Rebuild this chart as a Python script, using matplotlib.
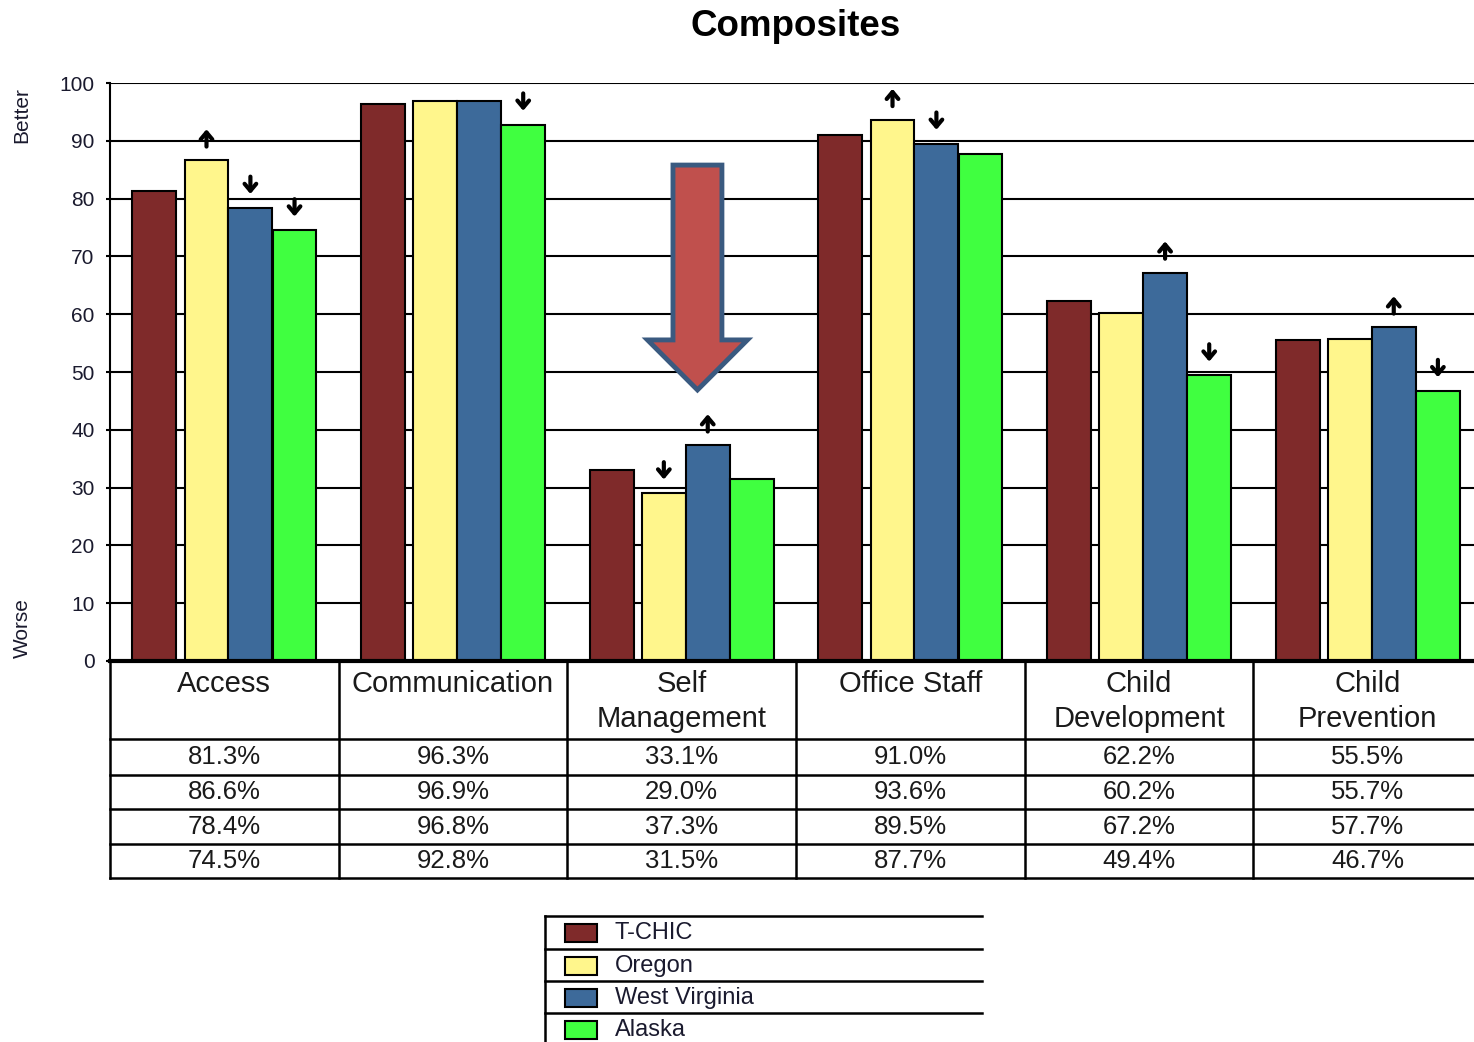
import matplotlib
matplotlib.use('Agg')
import matplotlib.pyplot as plt
from matplotlib.patches import FancyArrow, Rectangle

plt.rcParams['font.family'] = ['Liberation Sans', 'DejaVu Sans']

# ---------------------------------------------------------------------------
# data
# ---------------------------------------------------------------------------
categories = ['Access', 'Communication', 'Self\nManagement', 'Office Staff',
              'Child\nDevelopment', 'Child\nPrevention']
series = ['T-CHIC', 'Oregon', 'West Virginia', 'Alaska']
t_chic = [81.3, 96.3, 33.1, 91.0, 62.2, 55.5]
oregon = [86.6, 96.9, 29.0, 93.6, 60.2, 55.7]
west_virginia = [78.4, 96.8, 37.3, 89.5, 67.2, 57.7]
alaska = [74.5, 92.8, 31.5, 87.7, 49.4, 46.7]
# significance marks: 1 = up, -1 = down, 0 = none
oregon_sig = [1, 0, -1, 1, 0, 0]
west_virginia_sig = [-1, 0, 1, -1, 1, 1]
alaska_sig = [-1, -1, 0, 0, -1, -1]
t_chic_sig = [0, 0, 0, 0, 0, 0]
yticks = [0, 10, 20, 30, 40, 50, 60, 70, 80, 90, 100]

values = [t_chic, oregon, west_virginia, alaska]
sigs = [t_chic_sig, oregon_sig, west_virginia_sig, alaska_sig]
colors = ['#7F2A2A', '#FFF68C', '#3D6A9A', '#40FF40']

# ---------------------------------------------------------------------------
# layout (pixels)
# ---------------------------------------------------------------------------
W, H = 1474, 1042
fig = plt.figure(figsize=(W / 100, H / 100), dpi=100)

def px(x0, y_top, w, h):
    return [x0 / W, (H - y_top - h) / H, w / W, h / H]

group_w = 228.67
ax = fig.add_axes(px(110, 83, group_w * 6, 578))
ax.set_xlim(0, 6)
ax.set_ylim(0, 100)

offsets = [0.098, 0.326, 0.518, 0.711]
bar_w = 0.192
for s in range(4):
    xs = [g + offsets[s] for g in range(len(categories))]
    ax.bar(xs, values[s], width=bar_w, align='edge', color=colors[s],
           edgecolor='black', linewidth=1.5, zorder=3)
    for g in range(len(categories)):
        d = sigs[s][g]
        if d != 0:
            xc = xs[g] + bar_w / 2
            yc = values[s][g] + 3.9
            ax.annotate('', xy=(xc, yc + 1.5 * d), xytext=(xc, yc - 1.5 * d),
                        arrowprops=dict(arrowstyle='->,head_length=0.5,head_width=0.42',
                                        lw=3, color='black',
                                        shrinkA=0, shrinkB=0),
                        zorder=4)

ax.set_yticks(yticks)
ax.set_xticks([])
ax.yaxis.grid(True, color='black', linewidth=1.5, zorder=0)
ax.set_axisbelow(True)
ax.tick_params(axis='y', length=3, width=1.5, labelsize=15, pad=8,
               labelcolor='#1a1a2e')
for side in ['top', 'right']:
    ax.spines[side].set_visible(False)
ax.spines['left'].set_linewidth(1.5)
ax.spines['bottom'].set_linewidth(3)
ax.spines['bottom'].set_zorder(5)

# big highlight arrow over Self Management
g = 2
tip = max(v[g] for v in values) + 9.6
ax.add_patch(FancyArrow(g + 0.569, 85.8, 0, tip - 85.8, width=0.214,
                        head_width=0.437, head_length=8.65,
                        length_includes_head=True, facecolor='#C0504D',
                        edgecolor='#3A5A80', linewidth=3.5, zorder=6))

# ---------------------------------------------------------------------------
# data table under the chart
# ---------------------------------------------------------------------------
rows_y = [0, 78, 114, 148, 183, 217]
tab = fig.add_axes(px(110, 661, group_w * 6, 217))
tab.set_xlim(0, 6)
tab.set_ylim(217, 0)
tab.axis('off')
for y in rows_y[1:]:
    tab.plot([0, 6], [y, y], color='black', lw=1.8, clip_on=False)
for xg in range(7):
    tab.plot([xg, xg], [0, 217], color='black', lw=1.8, clip_on=False)
for gi, cat in enumerate(categories):
    tab.text(gi + 0.5, 9, cat, ha='center', va='top', fontsize=21,
             color='#1a1a1a', linespacing=1.3)
    for s in range(4):
        yc = (rows_y[s + 1] + rows_y[s + 2]) / 2
        tab.text(gi + 0.5, yc, f'{values[s][gi]:.1f}%', ha='center',
                 va='center', fontsize=18.5, color='#1a1a1a')

# ---------------------------------------------------------------------------
# overlay: title, side labels, legend
# ---------------------------------------------------------------------------
ov = fig.add_axes([0, 0, 1, 1], facecolor='none')
ov.set_xlim(0, W)
ov.set_ylim(H, 0)
ov.axis('off')

ov.text(796, 27, 'Composites', ha='center', va='center', fontsize=26.5,
        fontweight='bold', color='black')
ov.text(22, 115, 'Better', rotation=90, ha='center', va='center',
        fontsize=15, color='#1a1a2e')
ov.text(22, 628, 'Worse', rotation=90, ha='center', va='center',
        fontsize=15, color='#1a1a2e')

leg_lines = [916, 949, 981, 1013]
for y in leg_lines:
    ov.plot([545, 982], [y, y], color='black', lw=1.8)
ov.plot([545, 545], [916, H], color='black', lw=1.8)
for s, name in enumerate(series):
    top = leg_lines[s]
    ov.add_patch(Rectangle((565, top + 8), 32, 18, facecolor=colors[s],
                           edgecolor='black', lw=1.5))
    ov.text(615, top + 17, name, ha='left', va='center', fontsize=17,
            color='#1a1a2e')

plt.savefig('out.png', dpi=100)
